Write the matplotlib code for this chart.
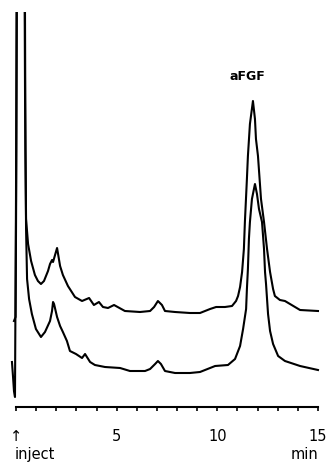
import matplotlib.pyplot as plt

# chromatogramme : deux injections, temps en min, reponse en unites arbitraires
t_haut = [-0.10, -0.02, 0.02, 0.07, 0.42, 0.47, 0.50, 0.60, 0.75, 0.94, 1.09, 1.24,
          1.39, 1.59, 1.69, 1.79, 1.84, 1.94, 2.04, 2.09, 2.19, 2.33, 2.58, 2.93,
          3.28, 3.63, 3.87, 4.12, 4.32, 4.57, 4.87, 5.41, 6.16, 6.66, 6.86, 7.05,
          7.25, 7.40, 7.90, 8.64, 9.14, 9.64, 9.94, 10.38, 10.73, 10.93, 11.03,
          11.13, 11.23, 11.32, 11.37, 11.47, 11.52, 11.62, 11.77, 11.87, 11.92,
          12.02, 12.17, 12.32, 12.47, 12.62, 12.77, 12.86, 13.11, 13.36, 13.61,
          14.11, 15.00]
s_haut = [86, 90, 258, 558, 558, 258, 188, 163, 146, 132, 126, 123,
          126, 136, 143, 147, 145, 152, 159, 153, 141, 132, 121, 110,
          106, 109, 102, 105, 100, 99, 102, 96, 95, 96, 100, 106,
          102, 96, 95, 94, 94, 98, 100, 100, 101, 106, 111,
          120, 135, 158, 185, 228, 251, 283, 306, 288, 268,
          251, 208, 185, 158, 135, 118, 111, 107, 106, 103,
          97, 96]

t_bas = [-0.20, -0.15, -0.10, -0.05, 0.00, 0.05, 0.40, 0.45, 0.50, 0.55, 0.65, 0.79,
         0.99, 1.24, 1.44, 1.69, 1.79, 1.84, 1.89, 2.04, 2.19, 2.33, 2.53, 2.68,
         2.98, 3.28, 3.43, 3.68, 3.92, 4.42, 5.17, 5.66, 6.41, 6.66, 6.91, 7.05,
         7.20, 7.40, 7.90, 8.64, 9.14, 9.89, 10.53, 10.88, 11.13, 11.28, 11.43,
         11.47, 11.52, 11.57, 11.62, 11.72, 11.87, 11.97, 12.07, 12.22, 12.32,
         12.37, 12.42, 12.52, 12.62, 12.77, 13.02, 13.36, 14.11, 15.00]
s_bas = [45, 31, 16, 10, 208, 558, 558, 308, 178, 128, 108, 93,
         78, 70, 75, 86, 96, 105, 103, 90, 81, 75, 66, 56,
         53, 49, 53, 45, 42, 40, 39, 36, 36, 38, 43, 46,
         43, 36, 34, 34, 35, 41, 42, 48, 61, 78, 98,
         118, 138, 168, 185, 208, 223, 213, 198, 185, 158,
         135, 123, 93, 76, 63, 51, 46, 41, 37]

graduations = list(range(16))
etiquettes = ['\u2191' if g == 0 else str(g) if g % 5 == 0 else '' for g in graduations]

fig = plt.figure(figsize=(3.29, 4.64), dpi=100)
ax = fig.add_axes([8/329, 56/464, 314/329, 395/464])

ax.plot(t_haut, s_haut, color='k', lw=1.5)
ax.plot(t_bas, s_bas, color='k', lw=1.5)

ax.set_xlim(-0.397, 15.2)
ax.set_ylim(0, 395)

for c in ['top', 'right', 'left']:
    ax.spines[c].set_visible(False)
ax.spines['bottom'].set_bounds(0, 15)
ax.spines['bottom'].set_linewidth(1.5)
ax.set_yticks([])
ax.set_xticks(graduations)
ax.set_xticklabels(etiquettes, fontsize=10.5)
ax.tick_params(axis='x', direction='out', length=3, width=1.2, pad=12)

ax.text(11.48, 331, 'aFGF', ha='center', va='center', fontsize=9, fontweight='bold')
fig.text(15/329, 1 - 455/464, 'inject', ha='left', va='center', fontsize=10.5)
fig.text(318/329, 1 - 455/464, 'min', ha='right', va='center', fontsize=10.5)

fig.savefig('out.png', dpi=100)
